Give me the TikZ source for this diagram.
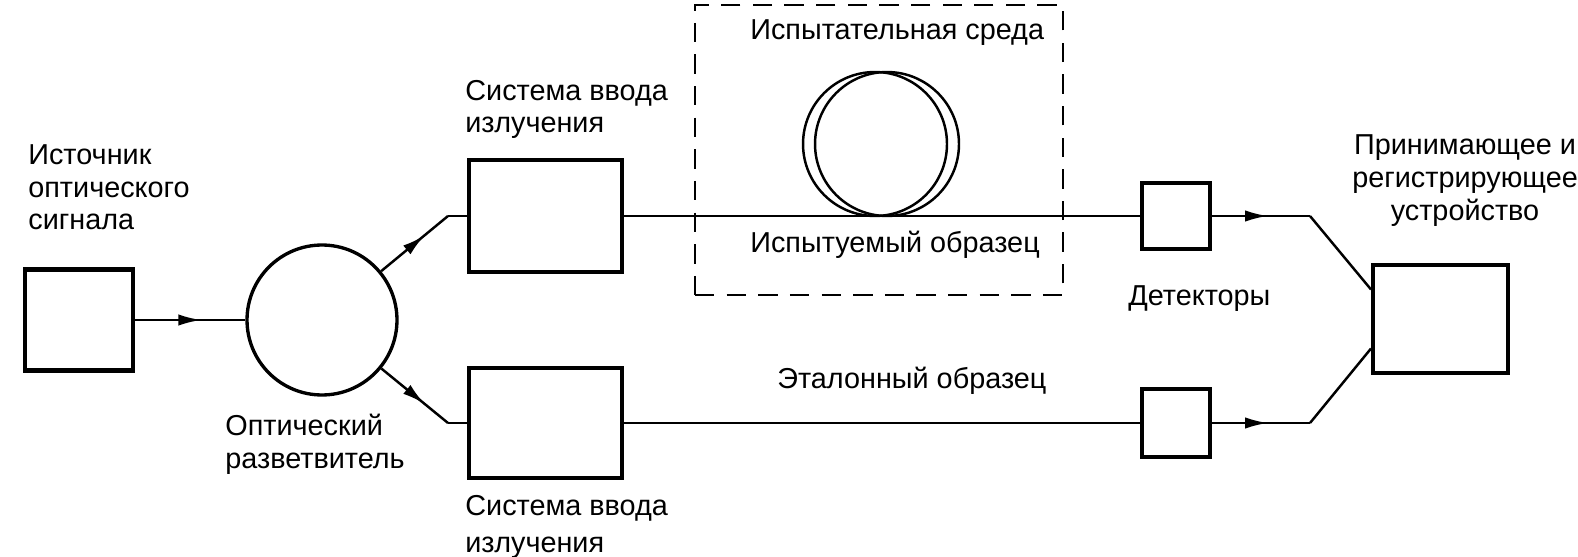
\documentclass[tikz,border=0pt]{standalone}
\usepackage{fontspec}
\setmainfont{Liberation Sans}
\usetikzlibrary{arrows.meta, decorations.markings}

\begin{document}
\begin{tikzpicture}[x=0.02cm, y=-0.02cm,
    blok/.style={draw, line width=2.3pt, inner sep=0pt},
    svyaz/.style={line width=1.4pt},
    podpis/.style={inner sep=0pt, align=left, font=\fontsize{16.4}{18.7}\selectfont},
    strelka/.style={postaction={decorate}, decoration={markings,
        mark=at position #1 with {\arrow{Latex[length=13pt, width=6.5pt]}}}},
    strelka/.default=0.6]

    \useasboundingbox (0,0) rectangle (1578,557);

    % bloki
    \node[blok, minimum width=2.16cm, minimum height=2.02cm] (ist) at (79,320) {};
    \node[blok, circle, line width=1.9pt, minimum size=3cm] (razv) at (322,320) {};
    \node[blok, minimum width=3.06cm, minimum height=2.24cm] (vvodA) at (545.5,216) {};
    \node[blok, minimum width=3.06cm, minimum height=2.2cm] (vvodB) at (545.5,423) {};
    \node[blok, minimum width=1.36cm, minimum height=1.32cm] (detA) at (1176,216) {};
    \node[blok, minimum width=1.36cm, minimum height=1.36cm] (detB) at (1176,423) {};
    \node[blok, minimum width=2.7cm, minimum height=2.16cm] (prm) at (1440.5,319) {};
    \node[draw, line width=1.4pt, dash pattern=on 11pt off 7pt,
        minimum width=7.36cm, minimum height=5.8cm] (sreda) at (879,150) {};

    \foreach \cx in {875, 887} {
        \draw[svyaz] (\cx,144) circle[radius=1.44cm];
    }

    \coordinate (kA) at (448,216);
    \coordinate (kB) at (448,423);
    \coordinate (kC) at (1310,216);
    \coordinate (kD) at (1310,423);

    % svyazi
    \draw[svyaz, strelka] (ist) -- (razv);
    \draw[svyaz, strelka=0.65] (razv) -- (kA);
    \draw[svyaz] (kA) -- (vvodA.west);
    \draw[svyaz, strelka=0.65] (razv) -- (kB);
    \draw[svyaz] (kB) -- (vvodB.west);
    \draw[svyaz] (vvodA) -- (detA);
    \draw[svyaz] (vvodB) -- (detB);
    \draw[svyaz, strelka=0.57] (detA) -- (kC);
    \draw[svyaz] (kC) -- (prm.157);
    \draw[svyaz, strelka=0.57] (detB) -- (kD);
    \draw[svyaz] (kD) -- (prm.203);

    % podpisi (base = last line)
    \node[podpis, anchor=base west] (tIst) at (28,230) {Источник\\оптического\\сигнала};
    \node[podpis, anchor=base west] (tVvodA) at (465,133) {Система ввода\\излучения};
    \node[podpis, anchor=base west] (tVvodB) at (465,552) {Система ввода\\[2.3pt]излучения};
    \node[podpis, anchor=base west] (tRazv) at (225,468) {Оптический\\разветвитель};
    \node[podpis, anchor=base west] (tSreda) at (750,40) {Испытательная среда};
    \node[podpis, anchor=base west] (tObr) at (750,253) {Испытуемый образец};
    \node[podpis, anchor=base west] (tEtal) at (777,388) {Эталонный образец};
    \node[podpis, anchor=base west] (tDet) at (1128,305) {Детекторы};
    \node[podpis, align=center, anchor=base] (tPrm) at (1465,220) {Принимающее и\\регистрирующее\\устройство};

\end{tikzpicture}
\end{document}
